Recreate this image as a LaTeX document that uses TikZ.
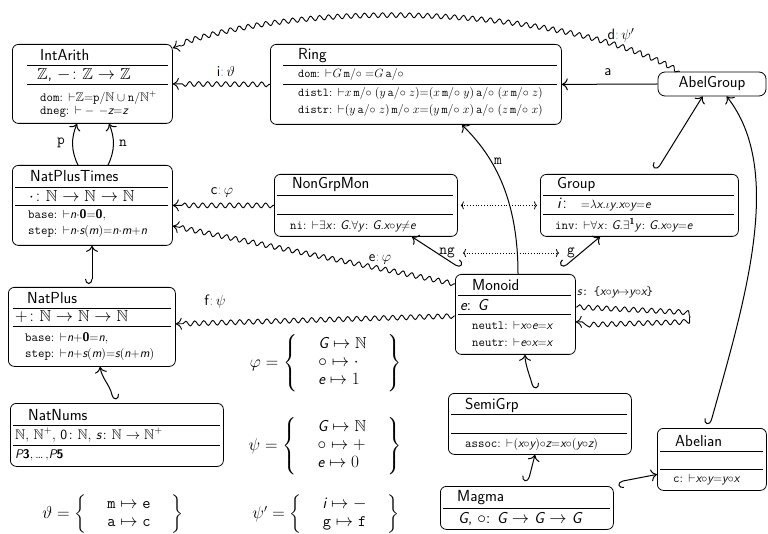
\documentclass[tikz,border=0pt]{standalone}
\usepackage{amsmath,amssymb}
\usepackage{fontspec}
\usetikzlibrary{arrows.meta,decorations.pathmorphing,calc}
\definecolor{lblue}{RGB}{90,150,220}
\newcommand\sit[1]{\text{\sffamily\itshape #1}}
\newcommand\bc{\textcolor{lblue}{:}}
\newcommand\fT{\fontsize{16}{19}\selectfont}
\newcommand\fS{\fontsize{12.5}{15}\selectfont}
\newcommand\fR{\fontsize{12}{14}\selectfont}
\newcommand\fL{\fontsize{15}{18}\selectfont}
\newcommand\mo{\mathtt{m}/{\circ}}
\newcommand\ao{\mathtt{a}/{\circ}}
\newcommand\vd{{\vdash}}
\tikzset{
  box/.style={draw, line width=0.8pt, rounded corners=6pt, inner sep=0pt, anchor=north west},
  hr/.style={line width=0.8pt},
  tl/.style={anchor=west, inner sep=0pt, font=\fT\sffamily},
  ax/.style={anchor=west, inner sep=0pt, font=\fS},
  lbl/.style={inner sep=1pt, font=\fL},
  arr/.style={line width=1pt, -{To[length=6pt,width=12pt]}},
  hookR/.style={line width=1pt, {Hooks[right,length=5pt,width=14pt]}-{To[length=6pt,width=12pt]}},
  hookL/.style={line width=1pt, {Hooks[left,length=5pt,width=14pt]}-{To[length=6pt,width=12pt]}},
  view/.style={line width=0.9pt, -{To[length=6pt,width=12pt]}, decorate,
    decoration={snake, amplitude=2.4pt, segment length=9pt, post length=6pt, pre length=1pt}},
  dots/.style={dotted, line width=0.8pt, {To[length=3pt,width=8pt]}-{To[length=3pt,width=8pt]}},
}
\begin{document}
\begin{tikzpicture}[x=1pt,y=-1pt]
\useasboundingbox (0,0) rectangle (768,534);

% ---------- IntArith
\node[box, minimum width=160pt, minimum height=79pt] (intarith) at (12,44) {};
\draw[hr] (27,65) -- (168,65); \draw[hr] (27,84) -- (168,84);
\node[tl] (intarith-t) at (40,55) {IntArith};
\node[tl] (intarith-r) at (37,75) {$\mathbb{Z}$, $-\colon\mathbb{Z}\to\mathbb{Z}$};
\node[ax] (intarith-a1) at (40,98) {\texttt{dom}: $\vd\mathbb{Z}{=}\mathtt{p}/\mathbb{N}\cup\mathtt{n}/\mathbb{N}^{+}$};
\node[ax] (intarith-a2) at (40,112) {\texttt{dneg}: $\vd-\,-\sit{z}{=}\sit{z}$};

% ---------- Ring
\node[box, minimum width=291pt, minimum height=80pt] (ring) at (270,44) {};
\draw[hr] (283,65) -- (557,65); \draw[hr] (283,84) -- (557,84);
\node[tl] (ring-t) at (298,56) {Ring};
\node[ax, font=\fR] (ring-a0) at (298,75) {\texttt{dom}: $\vd G\,\mo\;{=}G\,\ao$};
\node[ax, font=\fR] (ring-a1) at (298,94) {\texttt{distl}: $\vd x\,\mo\;(y\,\ao\;z){=}(x\,\mo\;y)\,\ao\;(x\,\mo\;z)$};
\node[ax, font=\fR] (ring-a2) at (298,111) {\texttt{distr}: $\vd(y\,\ao\;z)\,\mo\;x{=}(y\,\mo\;x)\,\ao\;(z\,\mo\;x)$};

% ---------- AbelGroup
\node[draw, line width=0.8pt, rounded corners=7pt, minimum width=108pt, minimum height=24pt, inner sep=0pt, font=\fT\sffamily] (abelgroup) at (712,84) {AbelGroup};

% ---------- NatPlusTimes
\node[box, minimum width=160pt, minimum height=80pt] (natplustimes) at (12,165) {};
\draw[hr] (15,187) -- (168,187); \draw[hr] (15,205) -- (168,205);
\node[tl] (npt-t) at (30,176) {NatPlusTimes};
\node[tl] (npt-r) at (29,196) {$\cdot\colon\mathbb{N}\to\mathbb{N}\to\mathbb{N}$};
\node[ax] (npt-a1) at (28,215) {\texttt{base}: $\vd\sit{n}{\cdot}\textbf{\textsf{0}}{=}\textbf{\textsf{0}}$,};
\node[ax] (npt-a2) at (28,232) {\texttt{step}: $\vd\sit{n}{\cdot}\sit{s}(\sit{m}){=}\sit{n}{\cdot}\sit{m}{+}\sit{n}$};

% ---------- NonGrpMon
\node[box, minimum width=183pt, minimum height=62pt] (nongrpmon) at (274,174) {};
\draw[hr] (277,195) -- (453,195); \draw[hr] (277,214) -- (453,214);
\node[tl] (ngm-t) at (292,185) {NonGrpMon};
\node[ax] (ngm-a1) at (290,226) {\texttt{ni}: $\vd\exists\sit{x}\colon\sit{G}.\forall\sit{y}\colon\sit{G}.\sit{x}{\circ}\sit{y}{\neq}\sit{e}$};

% ---------- Group
\node[box, minimum width=198pt, minimum height=62pt] (group) at (540,174) {};
\draw[hr] (543,195) -- (734,195); \draw[hr] (543,214) -- (734,214);
\node[tl] (group-t) at (557,185) {Group};
\node[ax] (group-r) at (557,205) {{\fT$\sit{i}\colon$}\ \ ${=}\lambda\sit{x}.\iota\sit{y}.\sit{x}{\circ}\sit{y}{=}\sit{e}$};
\node[ax] (group-a1) at (555,225) {\texttt{inv}: $\vd\forall\sit{x}\colon\sit{G}.\exists^{\textbf{\textsf{1}}}\sit{y}\colon\sit{G}.\sit{x}{\circ}\sit{y}{=}\sit{e}$};

% ---------- Monoid
\node[box, minimum width=120pt, minimum height=80pt] (monoid) at (455,274) {};
\draw[hr] (458,295) -- (571,295); \draw[hr] (458,314) -- (571,314);
\node[tl] (monoid-t) at (472,285) {Monoid};
\node[tl] (monoid-r) at (460,305) {\sit{e}: \sit{G}};
\node[ax] (monoid-a1) at (472,325) {\texttt{neutl}: $\vd\sit{x}{\circ}\sit{e}{=}\sit{x}$};
\node[ax] (monoid-a2) at (472,342) {\texttt{neutr}: $\vd\sit{e}{\circ}\sit{x}{=}\sit{x}$};

% ---------- NatPlus
\node[box, minimum width=167pt, minimum height=79pt] (natplus) at (8,287) {};
\draw[hr] (13,308) -- (171,308); \draw[hr] (13,326) -- (171,326);
\node[tl] (np-t) at (27,298) {NatPlus};
\node[tl] (np-r) at (15,317) {$+\colon\mathbb{N}\to\mathbb{N}\to\mathbb{N}$};
\node[ax] (np-a1) at (25,338) {\texttt{base}: $\vd\sit{n}{+}\textbf{\textsf{0}}{=}\sit{n}$,};
\node[ax] (np-a2) at (25,355) {\texttt{step}: $\vd\sit{n}{+}\sit{s}(\sit{m}){=}\sit{s}(\sit{n}{+}\sit{m})$};

% ---------- NatNums
\node[box, minimum width=213pt, minimum height=63pt] (natnums) at (10,403) {};
\draw[hr] (13,425) -- (220,425); \draw[hr] (13,445) -- (220,445);
\node[tl] (nn-t) at (28,415) {NatNums};
\node[tl, font=\fontsize{14}{17}\selectfont] (nn-r) at (15,435) {$\mathbb{N}$, $\mathbb{N}^{+}$, \textsf{0}$\colon\mathbb{N}$, \sit{s}$\colon\mathbb{N}\to\mathbb{N}^{+}$};
\node[ax] (nn-a1) at (15,455) {\sit{P}\textbf{\textsf{3}},\,\ldots\,,\sit{P}\textbf{\textsf{5}}};

% ---------- SemiGrp
\node[box, minimum width=183pt, minimum height=61pt] (semigrp) at (448,393) {};
\draw[hr] (451,414) -- (627,414); \draw[hr] (451,433) -- (627,433);
\node[tl] (sg-t) at (465,405) {SemiGrp};
\node[ax] (sg-a1) at (465,444) {\texttt{assoc}: $\vd(\sit{x}{\circ}\sit{y}){\circ}\sit{z}{=}\sit{x}{\circ}(\sit{y}{\circ}\sit{z})$};

% ---------- Abelian
\node[box, minimum width=109pt, minimum height=62pt] (abelian) at (657,428) {};
\draw[hr] (660,451) -- (763,451); \draw[hr] (660,469) -- (763,469);
\node[tl] (ab-t) at (675,441) {Abelian};
\node[ax] (ab-a1) at (673,480) {\texttt{c}: $\vd\sit{x}{\circ}\sit{y}{=}\sit{y}{\circ}\sit{x}$};

% ---------- Magma
\node[box, minimum width=173pt, minimum height=43pt] (magma) at (440,486) {};
\draw[hr] (443,508) -- (610,508);
\node[tl] (mg-t) at (457,498) {Magma};
\node[tl] (mg-r) at (458,519) {\sit{G}, $\circ$: \sit{G} $\to$ \sit{G} $\to$ \sit{G}};

% ---------- morphism definitions
\node[font=\fT] (theta) at (113,514) {$\vartheta=\left\{\quad\renewcommand\arraystretch{0.95}\begin{array}{c}\mathtt{m}\mapsto\mathtt{e}\\ \mathtt{a}\mapsto\mathtt{c}\end{array}\quad\right\}$};
\node[font=\fT] (phi) at (326,363) {$\varphi=\left\{\quad\renewcommand\arraystretch{0.95}\begin{array}{l}\sit{G}\mapsto\mathbb{N}\\ {\circ}\mapsto\cdot\\ \sit{e}\mapsto 1\end{array}\quad\right\}$};
\node[font=\fT] (psi) at (325,446) {$\psi=\left\{\quad\renewcommand\arraystretch{0.95}\begin{array}{l}\sit{G}\mapsto\mathbb{N}\\ {\circ}\mapsto+\\ \sit{e}\mapsto 0\end{array}\quad\right\}$};
\node[font=\fT] (psip) at (326,514) {$\psi'=\left\{\quad\renewcommand\arraystretch{0.95}\begin{array}{c}\sit{i}\mapsto-\\ \mathtt{g}\mapsto\mathtt{f}\end{array}\quad\right\}$};

% ---------- connectors
% views (wavy)
\draw[view] ([xshift=22pt]abelgroup.north west) .. controls (560,5) and (300,0) .. ([yshift=-4pt]intarith.north east);
\node[lbl] (dlbl) at (621,35) {\textsf{d}\bc\,$\psi'$};
\draw[view] (ring.west) -- (intarith.east);
\node[lbl] (ilbl) at (226,72) {\textsf{i}\bc\,$\vartheta$};
\draw[view] (nongrpmon.west) -- (natplustimes.east);
\node[lbl] (clbl) at (222,192) {\textsf{c}\bc\,$\varphi$};
\draw[view] ([yshift=-10pt]monoid.north west) -- ([yshift=-61pt]natplustimes.north east);
\node[lbl] (elbl) at (380,259) {\textsf{e}\bc\,$\varphi$};
\draw[view] ([yshift=-42pt]monoid.north west) -- ([yshift=3pt]natplus.east);
\node[lbl] (flbl) at (215,302) {\textsf{f}\bc\,$\psi$};
\draw[view] ([yshift=-33pt]monoid.north east) -- (680,312) .. controls (692,313) and (692,318) .. (680,319) -- ([yshift=-48pt]monoid.north east);
\node[ax] (slbl) at (577,292) {\sit{s}\texttt{:} \texttt{\{}$\sit{x}{\circ}\sit{y}{\mapsto}\sit{y}{\circ}\sit{x}$\texttt{\}}};

% plain arrows
\draw[arr] (abelgroup.west) -- (ring.east);
\node[lbl] (albl) at (608,72) {\textsf{a}};
\draw[arr] ([xshift=66pt]natplustimes.north west) .. controls +(-7,-14) and +(-6,14) .. ([xshift=65pt]intarith.south west);
\node[lbl] (plbl) at (61,143) {\texttt{p}};
\draw[arr] ([xshift=96pt]natplustimes.north west) .. controls +(7,-14) and +(6,14) .. ([xshift=97pt]intarith.south west);
\node[lbl] (nlbl) at (123,143) {\texttt{n}};
\draw[arr] ([xshift=63pt]monoid.north west) .. controls +(0,-85) and +(25,25) .. ([xshift=192pt]ring.south west);
\node[lbl] (mlbl) at (498,161) {\texttt{m}};

% inclusions (hooked)
\draw[hookR] ([xshift=84pt,yshift=3pt]natplus.north west) -- ([xshift=80pt]natplustimes.south west);
\draw[hookL] ([xshift=103pt,yshift=3pt]natnums.north west) .. controls +(-3,-15) and +(2,12) .. ([xshift=92pt]natplus.south west);
\draw[hookL] ([xshift=5pt,yshift=6pt]monoid.north west) -- ([xshift=138pt]nongrpmon.south west);
\draw[hookR] ([xshift=-13pt,yshift=6pt]monoid.north east) -- ([xshift=60pt]group.south west);
\draw[hookR] ([xshift=117pt,yshift=4pt]group.north west) -- ([xshift=45pt]abelgroup.south west);
\draw[hookR] ([xshift=53pt,yshift=3pt]abelian.north west) .. controls (745,300) and (785,170) .. ([xshift=69pt]abelgroup.south west);
\draw[hookL] ([xshift=85pt,yshift=4pt]semigrp.north west) .. controls +(-2,-10) and +(0,10) .. ([xshift=70pt]monoid.south west);
\draw[hookR] ([xshift=88pt,yshift=4pt]magma.north west) -- ([xshift=87pt]semigrp.south west);
\draw[hookL] ([xshift=4pt,yshift=4pt]magma.north east) -- ([yshift=-15pt]abelian.west);

% dotted relations
\node[lbl] (nglbl) at (447,253) {\texttt{ng}};
\node[lbl] (glbl) at (571,253) {\texttt{g}};
\draw[dots, shorten <=7pt, shorten >=7pt] (nglbl) -- (glbl);
\draw[dots, shorten <=3pt, shorten >=3pt] (nongrpmon.east) -- (group.west);
\end{tikzpicture}
\end{document}
